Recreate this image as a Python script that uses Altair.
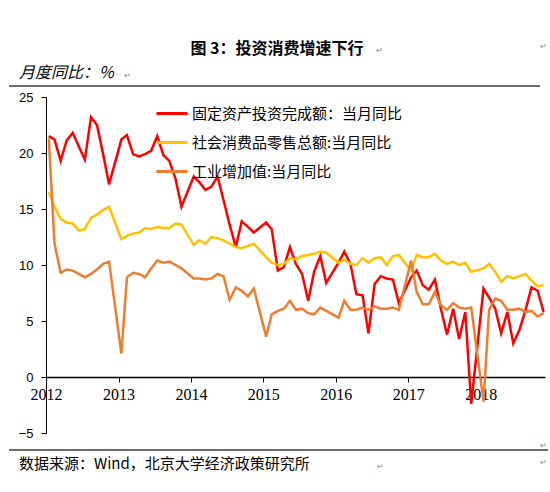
import altair as alt
import pandas as pd

# Monthly year-on-year growth, Feb 2012 - Dec 2018 (January not reported -> None)
fai = [
    21.5, 21.2, 19.3, 21.1, 21.8, 20.6, 19.4, 23.2, 22.5, 19.9, 17.2,
    None, 21.2, 21.6, 19.9, 19.7, 19.9, 20.2, 21.5, 19.8, 19.3, 17.7, 15.2,
    None, 17.9, 17.4, 16.7, 17.0, 17.9, 15.8, 13.6, 11.6, 13.9, 13.4, 12.9,
    None, 13.8, 13.2, 9.5, 9.8, 11.6, 10.1, 9.2, 6.8, 9.4, 10.8, 8.4,
    None, 10.2, 11.2, 10.1, 7.4, 7.3, 3.9, 8.3, 9.0, 8.8, 8.7, 6.6,
    None, 8.9, 9.5, 8.2, 7.8, 8.7, 6.1, 3.8, 6.1, 3.4, 5.8, -2.4,
    None, 7.9, 7.1, 6.1, 3.9, 5.8, 3.0, 4.2, 6.0, 8.0, 7.7, 5.8,
]
retail = [
    16.5, 15.2, 14.1, 13.8, 13.7, 13.1, 13.2, 14.2, 14.5, 14.9, 15.2,
    None, 12.3, 12.6, 12.8, 12.9, 13.3, 13.2, 13.4, 13.3, 13.3, 13.7, 13.6,
    None, 11.8, 12.2, 11.9, 12.5, 12.4, 12.2, 11.9, 11.6, 11.5, 11.7, 11.9,
    None, 10.7, 10.2, 10.0, 10.1, 10.6, 10.5, 10.8, 10.9, 11.0, 11.2, 11.1,
    None, 10.2, 10.5, 10.1, 10.0, 10.6, 10.2, 10.6, 10.7, 10.0, 10.8, 10.9,
    None, 9.5, 10.9, 10.7, 10.7, 11.0, 10.4, 10.1, 10.3, 10.0, 10.2, 9.4,
    None, 9.7, 10.1, 9.4, 8.5, 9.0, 8.8, 9.0, 9.2, 8.6, 8.1, 8.2,
]
iva = [
    21.3, 11.9, 9.3, 9.6, 9.5, 9.2, 8.9, 9.2, 9.6, 10.1, 10.3,
    None, 2.1, 8.9, 9.3, 9.2, 8.9, 9.7, 10.4, 10.2, 10.3, 10.0, 9.7,
    None, 8.8, 8.8, 8.7, 8.8, 9.2, 9.0, 6.9, 8.0, 7.7, 7.2, 7.9,
    None, 3.6, 5.6, 5.9, 6.1, 6.8, 6.0, 6.1, 5.7, 5.6, 6.2, 5.9,
    None, 5.3, 6.8, 6.0, 6.0, 6.2, 6.0, 6.3, 6.1, 6.1, 6.2, 6.0,
    None, 10.4, 7.6, 6.5, 6.5, 7.6, 6.4, 6.0, 6.6, 6.2, 6.1, 6.2,
    None, -2.2, 6.0, 7.0, 6.8, 6.0, 6.0, 6.1, 5.8, 5.9, 5.4, 5.7,
]

series_names = ["固定资产投资完成额：当月同比", "社会消费品零售总额:当月同比", "工业增加值:当月同比"]
series_colors = ["#FF0000", "#FFC000", "#ED7D31"]
year_ticks = [2012, 2013, 2014, 2015, 2016, 2017, 2018]
y_ticks = [-5, 0, 5, 10, 15, 20, 25]

title_text = "图 3：投资消费增速下行"
unit_text = "月度同比：%"
source_text = "数据来源：Wind，北京大学经济政策研究所"

months = pd.date_range("2012-02-01", periods=len(fai), freq="MS") + pd.Timedelta(days=14)
frames = []
for name, vals in zip(series_names, [fai, retail, iva]):
    frames.append(pd.DataFrame({"date": months, "series": name, "value": vals}))
df = pd.concat(frames, ignore_index=True).dropna(subset=["value"])
df["date"] = df["date"].dt.strftime("%Y-%m-%d")

W, H = 499, 336

x_enc = alt.X(
    "date:T",
    scale=alt.Scale(domain=[alt.DateTime(year=2012, month=2, date=1),
                            alt.DateTime(year=2018, month=12, date=22)]),
    axis=alt.Axis(
        values=[alt.DateTime(year=y, month=2, date=1) for y in year_ticks],
        format="%Y", title=None, grid=False, offset=-56,
        domainColor="black", domainWidth=1.5, tickColor="black", tickSize=5,
        tickWidth=1, labelFont="Liberation Serif", labelFontSize=16,
        labelColor="black", labelPadding=4, labelFlush=False, labelOverlap=False,
    ),
)
y_enc = alt.Y(
    "value:Q",
    scale=alt.Scale(domain=[-5, 25], nice=False, zero=False),
    axis=alt.Axis(
        values=y_ticks, title=None, grid=False,
        domainColor="black", domainWidth=1, tickColor="black", tickSize=5,
        labelFont="Liberation Sans", labelFontSize=13, labelColor="black",
        labelPadding=8,
    ),
)
color_enc = alt.Color(
    "series:N",
    scale=alt.Scale(domain=series_names, range=series_colors),
    legend=alt.Legend(
        orient="none", legendX=109, legendY=2, title=None, direction="vertical",
        symbolType="stroke", symbolSize=961, symbolStrokeWidth=3,
        labelFont="Noto Sans CJK SC", labelFontSize=15, labelColor="black",
        labelLimit=600, labelOffset=3, rowPadding=0, clipHeight=29, padding=0,
    ),
)

base = alt.Chart(df).mark_line(strokeWidth=2.5).encode(x=x_enc, y=y_enc, color=color_enc)
lines = [base.transform_filter(alt.datum.series == n) for n in series_names]


def label(text, x, y, size, align="left", weight="normal", style="normal",
          font="Noto Sans CJK SC", color="black"):
    return alt.Chart(pd.DataFrame({"t": [text]})).mark_text(
        align=align, baseline="middle", font=font, fontSize=size,
        fontWeight=weight, fontStyle=style, color=color,
    ).encode(x=alt.value(x), y=alt.value(y), text="t:N")


def hrule(x1, x2, y):
    return alt.Chart(pd.DataFrame({"k": [0]})).mark_rule(
        color="#3a3a3a", strokeWidth=1.5
    ).encode(x=alt.value(x1), x2=alt.value(x2), y=alt.value(y))


decor = [
    label(title_text, 231, -48, 16, align="center", weight="bold"),
    label(unit_text, -27, -24, 16, style="italic"),
    label(source_text, -27, 367, 15),
    label("↵", 330, -46, 8, color="#888888"),
    label("↵", 78, -21, 8, color="#888888"),
    label("↵", 331, 370, 8, color="#888888"),
    label("↵", 494, -50, 8, color="#888888"),
    label("↵", 494, 349, 8, color="#888888"),
    label("↵", 494, 366, 8, color="#888888"),
    hrule(-37, 494, -11),
    hrule(-37, 502, 353),
]

chart = alt.layer(*lines, *decor).properties(
    width=W, height=H,
    autosize=alt.AutoSizeParams(type="none"),
    padding={"left": 46, "top": 97, "right": 5, "bottom": 59},
    background="white",
).configure_view(stroke=None)

chart.save("out.html", embed_options={"renderer": "svg", "actions": False})
